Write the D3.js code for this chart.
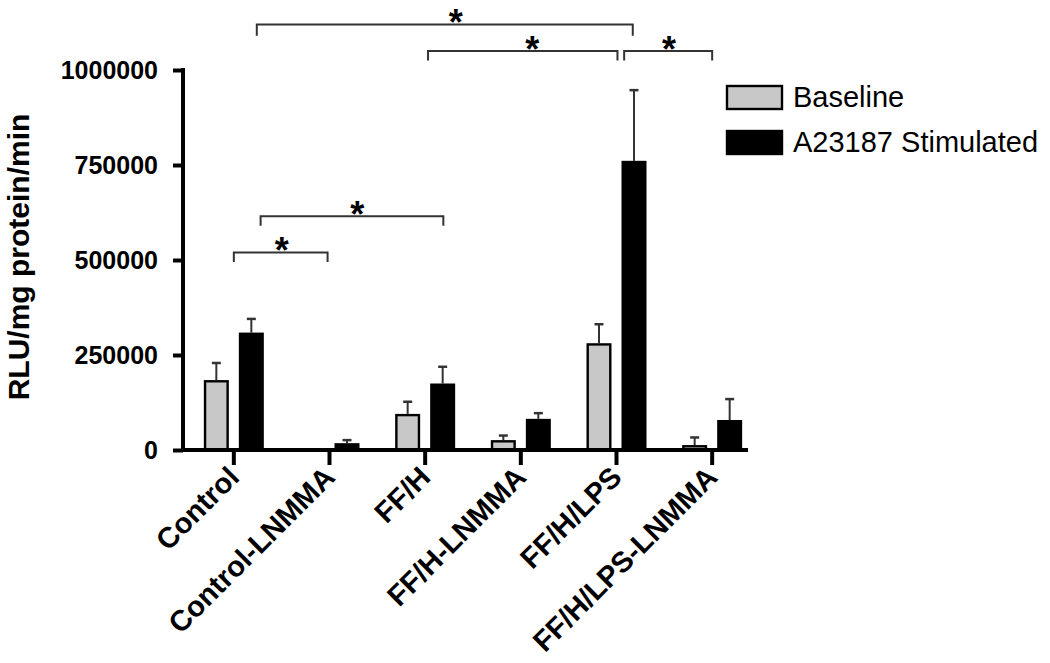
<!DOCTYPE html>
<html>
<head>
<meta charset="utf-8">
<script src="https://cdn.jsdelivr.net/npm/d3@7"></script>
<style>
  body { margin: 0; background: #fff; }
  text { font-family: Arial, "Liberation Sans", Helvetica, sans-serif; fill: #000; }
</style>
</head>
<body>
<script>
var categories = ["Control", "Control-LNMMA", "FF/H", "FF/H-LNMMA", "FF/H/LPS", "FF/H/LPS-LNMMA"];
var seriesNames = ["Baseline", "A23187 Stimulated"];
var baseline = [184000, 0, 95000, 26000, 281000, 13000];
var baselineErr = [45000, 0, 32000, 12000, 50000, 20000];
var stimulated = [309000, 18000, 175000, 82000, 761000, 79000];
var stimulatedErr = [36000, 8000, 44000, 15000, 186000, 55000];
var yTicks = [0, 250000, 500000, 750000, 1000000];

// significance brackets, ends in category positions (0 = Control, 5 = last)
var bracketFrom = [0.24, 2.03, 4.08, 0.28, 0];
var bracketTo = [4.17, 4.01, 5, 2.19, 0.98];
var bracketTop = [1120000, 1050000, 1050000, 615000, 520000];
var bracketFoot = [1090000, 1025000, 1025000, 590000, 495000];
var starAt = [2.32, 3.12, 4.55, 1.29, 0.5];

var colors = ["#c8c8c8", "#000000"];

var svg = d3.select("body").append("svg").attr("width", 1050).attr("height", 663);

var y = d3.scaleLinear().domain([0, 1000000]).range([450, 70]);
var x = d3.scaleBand().domain(categories).range([186, 760]);
var x1 = d3.scaleBand().domain(seriesNames).range([-30, 30]).paddingInner(0.286);
var xi = d3.scaleLinear().domain([0, categories.length - 1])
  .range([x(categories[0]) + x.bandwidth() / 2, x(categories[categories.length - 1]) + x.bandwidth() / 2]);

var rows = [];
categories.forEach(function (c, i) {
  rows.push({ cat: c, s: seriesNames[0], v: baseline[i], e: baselineErr[i], k: 0 });
  rows.push({ cat: c, s: seriesNames[1], v: stimulated[i], e: stimulatedErr[i], k: 1 });
});
rows = rows.filter(function (d) { return d.v > 0; });

function cx(d) { return x(d.cat) + x.bandwidth() / 2 + x1(d.s) + x1.bandwidth() / 2; }

// error bars (upper only)
var eb = svg.append("g").attr("stroke", "#333").attr("stroke-width", 2);
eb.selectAll("line.v").data(rows).enter().append("line")
  .attr("x1", cx).attr("x2", cx)
  .attr("y1", function (d) { return y(d.v); })
  .attr("y2", function (d) { return y(d.v + d.e); });
eb.selectAll("line.c").data(rows).enter().append("line")
  .attr("stroke-width", 2.5)
  .attr("x1", function (d) { return cx(d) - 4.5; })
  .attr("x2", function (d) { return cx(d) + 4.5; })
  .attr("y1", function (d) { return y(d.v + d.e); })
  .attr("y2", function (d) { return y(d.v + d.e); });

// bars
svg.append("g").selectAll("rect").data(rows).enter().append("rect")
  .attr("x", function (d) { return x(d.cat) + x.bandwidth() / 2 + x1(d.s) + 1.2; })
  .attr("width", x1.bandwidth() - 2.4)
  .attr("y", function (d) { return y(d.v) + 1.2; })
  .attr("height", function (d) { return Math.max(0, y(0) - y(d.v) - 1.2); })
  .attr("fill", function (d) { return colors[d.k]; })
  .attr("stroke", "#000").attr("stroke-width", 2.4);

// y axis
var yAxis = svg.append("g").attr("transform", "translate(183,0)")
  .call(d3.axisLeft(y).tickValues(yTicks).tickSize(10).tickPadding(15).tickFormat(d3.format("d")));
yAxis.select(".domain").remove();
yAxis.selectAll(".tick line").attr("stroke", "#000").attr("stroke-width", 4);
yAxis.selectAll(".tick text").attr("font-size", 25).attr("font-weight", "bold")
  .attr("font-family", "Arial, 'Liberation Sans', sans-serif");
svg.append("line").attr("x1", 183).attr("x2", 183).attr("y1", y(1000000) - 2).attr("y2", y(0) + 2)
  .attr("stroke", "#000").attr("stroke-width", 4);

// x axis
var xAxis = svg.append("g").attr("transform", "translate(0,450)")
  .call(d3.axisBottom(x).tickSize(15).tickFormat(""));
xAxis.select(".domain").remove();
xAxis.selectAll(".tick line").attr("stroke", "#000").attr("stroke-width", 4);
svg.append("line").attr("x1", 181).attr("x2", 748).attr("y1", y(0)).attr("y2", y(0))
  .attr("stroke", "#000").attr("stroke-width", 4);

svg.append("g").selectAll("text").data(categories).enter().append("text")
  .attr("transform", function (d) {
    return "translate(" + (x(d) + x.bandwidth() / 2 + 7) + ",479) rotate(-45)";
  })
  .attr("text-anchor", "end")
  .attr("font-size", 29).attr("font-weight", "bold")
  .text(function (d) { return d; });

// y label
svg.append("text").attr("transform", "translate(29,257) rotate(-90)")
  .attr("text-anchor", "middle").attr("font-size", 30).attr("font-weight", "bold")
  .text("RLU/mg protein/min");

// brackets
var br = svg.append("g").attr("fill", "none").attr("stroke", "#333").attr("stroke-width", 2);
bracketFrom.forEach(function (f, i) {
  var a = xi(f), b = xi(bracketTo[i]);
  br.append("path").attr("d", "M" + a + "," + y(bracketFoot[i]) + "V" + y(bracketTop[i]) +
    "H" + b + "V" + y(bracketFoot[i]));
  svg.append("text").attr("x", xi(starAt[i])).attr("y", y(bracketTop[i]) + 11)
    .attr("text-anchor", "middle").attr("font-size", 36).attr("font-weight", "bold")
    .text("*");
});

// legend
var lg = svg.append("g");
seriesNames.forEach(function (s, i) {
  lg.append("rect").attr("x", 727).attr("y", 86 + i * 45).attr("width", 55).attr("height", 23)
    .attr("fill", colors[i]).attr("stroke", "#000").attr("stroke-width", 2.4);
  lg.append("text").attr("x", 793).attr("y", 107 + i * 45).attr("font-size", 29).text(s);
});
</script>
</body>
</html>
